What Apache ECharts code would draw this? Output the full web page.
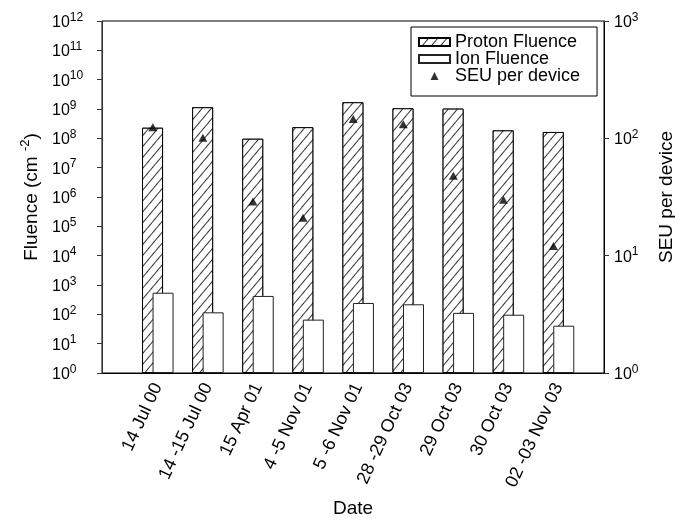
<!DOCTYPE html>
<html>
<head>
<meta charset="utf-8">
<script src="https://cdn.jsdelivr.net/npm/echarts@6/dist/echarts.min.js"></script>
<style>
html,body{margin:0;padding:0;background:#fff;}
#chart{width:675px;height:527px;}
</style>
</head>
<body>
<div id="chart"></div>
<script>
var categories = ['14 Jul 00', '14 -15 Jul 00', '15 Apr 01', '4 -5 Nov 01', '5 -6 Nov 01', '28 -29 Oct 03', '29 Oct 03', '30 Oct 03', '02 -03 Nov 03'];
var protonFluence = [2.3e8, 1.15e9, 9.7e7, 2.4e8, 1.7e9, 1.06e9, 1.03e9, 1.87e8, 1.65e8];
var ionFluence = [545, 117, 424, 66, 244, 220, 112, 97, 41];
var seuPerDevice = [124, 101, 29, 21, 146, 132, 48, 30, 12.1];
var categoryIndex = [0, 1, 2, 3, 4, 5, 6, 7, 8];

var FONT = '"Liberation Sans", Arial, Helvetica, sans-serif';

function pairs(vals) { return vals.map(function (v, i) { return [categoryIndex[i], v]; }); }
function powLabel(v) {
  var e = Math.round(Math.log10(v));
  return '{b|10}{s|' + e + '}';
}
var tickRich = {
  b: { fontSize: 16, fontFamily: FONT, color: '#000', verticalAlign: 'bottom', lineHeight: 19 },
  s: { fontSize: 12, fontFamily: FONT, color: '#000', verticalAlign: 'top', lineHeight: 19, padding: [0, 0, 7, 0] }
};

var chart = echarts.init(document.getElementById('chart'), null, { renderer: 'canvas' });
chart.setOption({
  backgroundColor: '#fff',
  animation: false,
  textStyle: { fontFamily: FONT },
  grid: {
    left: 102, right: 71, top: 21, bottom: 154,
    outerBoundsMode: 'none', containLabel: false,
    show: true, borderColor: '#000', borderWidth: 1, backgroundColor: 'transparent'
  },
  legend: {
    orient: 'vertical', left: 411, top: 27,
    borderColor: '#000', borderWidth: 1, padding: [6, 17, 11, 7],
    itemWidth: 31, itemHeight: 8, itemGap: -1,
    symbolKeepAspect: true,
    textStyle: { fontSize: 18, fontFamily: FONT, color: '#000' },
    data: [
      { name: 'Proton Fluence', icon: 'rect' },
      { name: 'Ion Fluence', icon: 'rect' },
      { name: 'SEU per device', icon: 'path://M0,9 L4.5,0 L9,9 Z' }
    ]
  },
  xAxis: {
    type: 'value', min: -1.114, max: 8.908,
    name: 'Date', nameLocation: 'middle', nameGap: 126,
    nameTextStyle: { fontSize: 19, fontFamily: FONT, color: '#000' },
    axisLine: { show: true, onZero: false, lineStyle: { color: '#000', width: 1 } },
    axisTick: { show: false },
    splitLine: { show: false },
    axisLabel: {
      customValues: categoryIndex,
      rotate: 65, margin: 11,
      fontSize: 18, fontFamily: FONT, color: '#000',
      formatter: function (v) { return categories[Math.round(v)] || ''; }
    }
  },
  yAxis: [
    {
      type: 'log', logBase: 10, min: 1, max: 1e12, interval: 1,
      name: '{t|Fluence (cm }{s|-2}{t|)}', nameLocation: 'middle', nameGap: 61, nameRotate: 90,
      nameTextStyle: {
        rich: {
          t: { fontSize: 19, fontFamily: FONT, color: '#000', verticalAlign: 'bottom', lineHeight: 22 },
          s: { fontSize: 13, fontFamily: FONT, color: '#000', verticalAlign: 'top', lineHeight: 22, padding: [0, 0, 6, 0] }
        }
      },
      axisLine: { show: true, onZero: false, lineStyle: { color: '#333', width: 1 } },
      axisTick: { show: true, inside: false, length: 5, lineStyle: { color: '#333' } },
      minorTick: { show: false },
      splitLine: { show: false },
      axisLabel: { margin: 50, align: 'left', formatter: powLabel, rich: tickRich }
    },
    {
      type: 'log', logBase: 10, min: 1, max: 1000, interval: 1,
      name: 'SEU per device', nameLocation: 'middle', nameGap: 53, nameRotate: 90,
      nameTextStyle: { fontSize: 19, fontFamily: FONT, color: '#000' },
      axisLine: { show: true, onZero: false, lineStyle: { color: '#000', width: 1 } },
      axisTick: { show: true, inside: false, length: 5, lineStyle: { color: '#333' } },
      splitLine: { show: false },
      axisLabel: { margin: 10, formatter: powLabel, rich: tickRich }
    }
  ],
  series: [
    {
      name: 'Proton Fluence', type: 'bar', yAxisIndex: 0,
      barWidth: 21, barGap: '-50%',
      data: pairs(protonFluence),
      itemStyle: {
        color: '#fff', borderColor: '#000', borderWidth: 1,
        decal: { symbol: 'rect', symbolSize: 1, color: '#333', backgroundColor: '#fff', dashArrayX: [1, 0], dashArrayY: [1, 6], rotation: -Math.PI / 3.6 }
      },
      z: 2
    },
    {
      name: 'Ion Fluence', type: 'bar', yAxisIndex: 0,
      barWidth: 21, barGap: '-50%',
      data: pairs(ionFluence),
      itemStyle: { color: '#fff', borderColor: '#222', borderWidth: 1 },
      z: 3
    },
    {
      name: 'SEU per device', type: 'scatter', yAxisIndex: 1,
      symbol: 'triangle', symbolSize: [9, 8], symbolOffset: [-5, 0], symbolKeepAspect: true,
      data: pairs(seuPerDevice),
      itemStyle: { color: '#000' },
      z: 4
    }
  ]
});
</script>
</body>
</html>
